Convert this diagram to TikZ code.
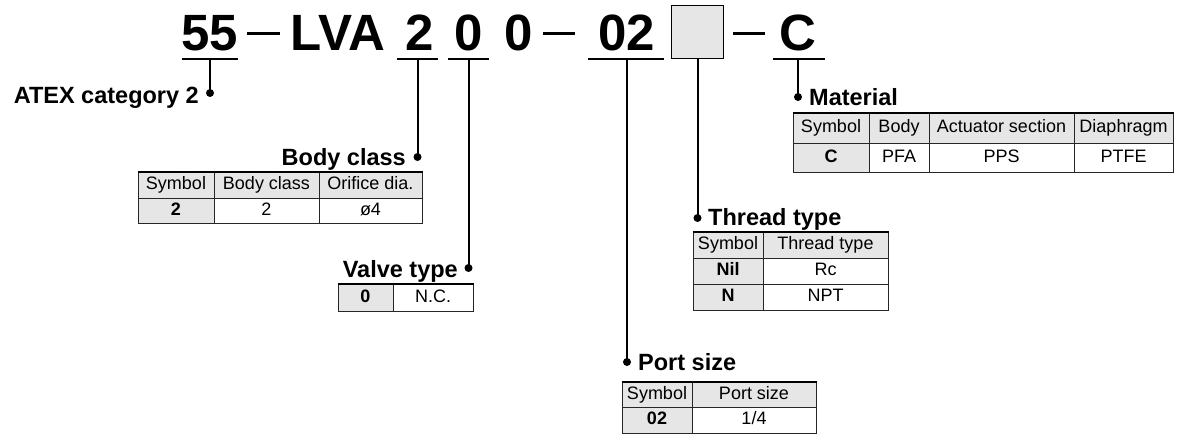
\documentclass[tikz,border=0pt]{standalone}
\usepackage{fontspec}
\setmainfont{Liberation Sans}
\definecolor{cellgray}{HTML}{E6E6E6}
\tikzset{
  title/.style={font=\fontsize{51}{51}\selectfont\bfseries, inner sep=0pt, anchor=base},
  lab/.style={font=\fontsize{23.5}{24}\selectfont\bfseries, inner sep=0pt},
  cellbox/.style={draw=black!85, line width=1pt, inner sep=0pt, text height=13pt, text depth=3.5pt, font=\fontsize{18}{18}\selectfont},
  conn/.style={line width=2pt},
  uline/.style={line width=2pt},
  dashline/.style={line width=3pt},
  topline/.style={line width=2pt},
  dotmark/.style={circle, fill=black, inner sep=0pt, minimum size=8pt}
}
\newcommand{\tcell}[7]{\node[cellbox, fill=#6, minimum width={(#4-#2)*1pt}, minimum height={(#5-#3)*1pt}] (#1) at ({(#2+#4)/2},{(#3+#5)/2}) {#7};}
\begin{document}
\begin{tikzpicture}[x=1pt,y=-1pt]
\useasboundingbox (0,0) rectangle (1186,434);
% title
\node[title] (t55) at (210,50) {55};
\node[title] (tLVA) at (338,50) {LVA};
\node[title] (t2) at (420,50) {2};
\node[title] (t0a) at (469,50) {0};
\node[title] (t0b) at (519,50) {0};
\node[title] (t02) at (627,50) {02};
\node[title] (tC) at (798,50) {C};
\node[draw=black, line width=1.5pt, fill=cellgray, minimum width=52pt, minimum height=53pt, inner sep=0pt] (box) at (697.5,32) {};
% dashes
\draw[dashline] (247,33) -- (280,33);
\draw[dashline] (543,33) -- (575,33);
\draw[dashline] (733,33) -- (765,33);
% underlines
\draw[uline] (182,59) -- (238,59);
\draw[uline] (397,59) -- (438,59);
\draw[uline] (448,59) -- (489,59);
\draw[uline] (588,59) -- (664,59);
\draw[uline] (773,59) -- (825,59);
\coordinate (u55) at (210,59);
\coordinate (u2) at (417.5,59);
\coordinate (u0) at (468.5,59);
\coordinate (u02) at (627,59);
\coordinate (uC) at (798,59);
% dots
\node[dotmark] (dATEX) at (210,93) {};
\node[dotmark] (dBody) at (417.5,157) {};
\node[dotmark] (dValve) at (468.5,268) {};
\node[dotmark] (dPort) at (627,362) {};
\node[dotmark] (dThread) at (697.5,218) {};
\node[dotmark] (dMat) at (798,97) {};
% connectors
\draw[conn] (u55) -- (dATEX.center);
\draw[conn] (u2) -- (dBody.center);
\draw[conn] (u0) -- (dValve.center);
\draw[conn] (u02) -- (dPort.center);
\draw[conn] (box.south) -- (dThread.center);
\draw[conn] (uC) -- (dMat.center);
% labels
\node[lab, anchor=base east] (lATEX) at (199,103) {ATEX category 2};
\node[lab, anchor=base east] (lBody) at (406,165) {Body class};
\node[lab, anchor=base east] (lValve) at (458,277) {Valve type};
\node[lab, anchor=base west] (lPort) at (638,370) {Port size};
\node[lab, anchor=base west] (lThread) at (708,225) {Thread type};
\node[lab, anchor=base west] (lMat) at (809,105) {Material};
% body class table
\tcell{bh1}{138}{172}{214}{198}{cellgray}{Symbol}
\tcell{bh2}{214}{172}{319}{198}{cellgray}{Body class}
\tcell{bh3}{319}{172}{422}{198}{cellgray}{Orifice dia.}
\tcell{bd1}{138}{198}{214}{223}{cellgray}{\bfseries 2}
\tcell{bd2}{214}{198}{319}{223}{white}{2}
\tcell{bd3}{319}{198}{422}{223}{white}{ø4}
\draw[topline] (bh1.north west) -- (bh3.north east);
% valve type table
\tcell{vd1}{338}{284}{393}{311}{cellgray}{\bfseries 0}
\tcell{vd2}{393}{284}{473}{311}{white}{N.C.}
\draw[topline] (vd1.north west) -- (vd2.north east);
% material table
\tcell{mh1}{793}{113}{869}{143}{cellgray}{Symbol}
\tcell{mh2}{869}{113}{929}{143}{cellgray}{Body}
\tcell{mh3}{929}{113}{1074}{143}{cellgray}{Actuator section}
\tcell{mh4}{1074}{113}{1173}{143}{cellgray}{Diaphragm}
\tcell{md1}{793}{143}{869}{172}{cellgray}{\bfseries C}
\tcell{md2}{869}{143}{929}{172}{white}{PFA}
\tcell{md3}{929}{143}{1074}{172}{white}{PPS}
\tcell{md4}{1074}{143}{1173}{172}{white}{PTFE}
\draw[topline] (mh1.north west) -- (mh4.north east);
% thread type table
\tcell{th1}{693}{232}{763}{258}{cellgray}{Symbol}
\tcell{th2}{763}{232}{888}{258}{cellgray}{Thread type}
\tcell{ta1}{693}{258}{763}{284}{cellgray}{\bfseries Nil}
\tcell{ta2}{763}{258}{888}{284}{white}{Rc}
\tcell{tb1}{693}{284}{763}{310}{cellgray}{\bfseries N}
\tcell{tb2}{763}{284}{888}{310}{white}{NPT}
\draw[topline] (th1.north west) -- (th2.north east);
% port size table
\tcell{ph1}{622}{382}{692}{407}{cellgray}{Symbol}
\tcell{ph2}{692}{382}{816}{407}{cellgray}{Port size}
\tcell{pd1}{622}{407}{692}{433}{cellgray}{\bfseries 02}
\tcell{pd2}{692}{407}{816}{433}{white}{1/4}
\draw[topline] (ph1.north west) -- (ph2.north east);
\end{tikzpicture}
\end{document}
